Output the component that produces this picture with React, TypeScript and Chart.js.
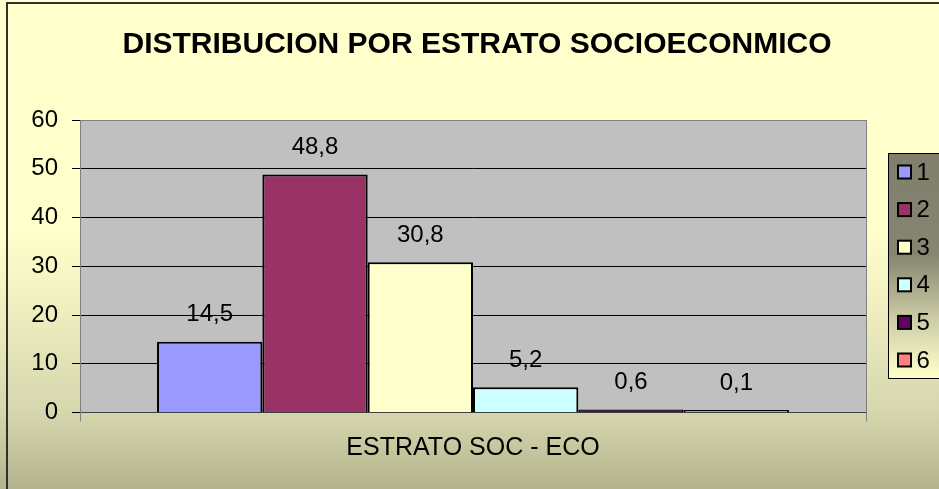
import React, { useEffect, useRef } from "react";
import { Chart, registerables } from "chart.js";

Chart.register(...registerables);

const categories = ["ESTRATO SOC - ECO"];
const seriesLabels = ["1", "2", "3", "4", "5", "6"];
const seriesValues = [14.5, 48.8, 30.8, 5.2, 0.6, 0.1];
const seriesColors = ["#9999FF", "#993366", "#FFFFCC", "#CCFFFF", "#660066", "#FF8080"];
const yMin = 0;
const yMax = 60;
const yStep = 10;
const titleText = "DISTRIBUCION POR ESTRATO SOCIOECONMICO";

const FONT = "'Liberation Sans', Arial, sans-serif";

const decoPlugin = {
  id: "deco",
  beforeDraw(chart: any) {
    const { ctx, width, height, chartArea } = chart;
    ctx.save();
    const g = ctx.createLinearGradient(0, 0, 0, height);
    g.addColorStop(0, "#FFFFCC");
    g.addColorStop(0.48, "#FFFFCC");
    g.addColorStop(0.84, "#D7D7AF");
    g.addColorStop(1, "#B3B38D");
    ctx.fillStyle = g;
    ctx.fillRect(0, 0, width, height);
    ctx.strokeStyle = "#303030";
    ctx.lineWidth = 2;
    ctx.strokeRect(7, 3, width + 20, height + 20);
    ctx.fillStyle = "#C0C0C0";
    ctx.fillRect(chartArea.left, chartArea.top, chartArea.right - chartArea.left, chartArea.bottom - chartArea.top);
    ctx.restore();
  },
  afterDraw(chart: any) {
    const { ctx, chartArea } = chart;
    ctx.save();
    ctx.strokeStyle = "#808080";
    ctx.lineWidth = 1;
    ctx.beginPath();
    ctx.moveTo(Math.round(chartArea.right) + 0.5, chartArea.top);
    ctx.lineTo(Math.round(chartArea.right) + 0.5, chartArea.bottom);
    ctx.stroke();

    ctx.fillStyle = "#000";
    ctx.font = `bold 30px ${FONT}`;
    ctx.textAlign = "center";
    ctx.textBaseline = "middle";
    ctx.fillText(titleText, 477, 45);

    ctx.font = `24px ${FONT}`;
    chart.data.datasets.forEach((ds: any, i: number) => {
      const meta = chart.getDatasetMeta(i);
      meta.data.forEach((bar: any, j: number) => {
        const v = ds.data[j];
        const txt = String(v).replace(".", ",");
        ctx.fillText(txt, bar.x, bar.y - 27);
      });
    });

    const lx = 888, ly = 153, lw = 60, lh = 225;
    const lg = ctx.createLinearGradient(0, ly, 0, ly + lh);
    lg.addColorStop(0, "#7F7F6B");
    lg.addColorStop(0.45, "#858571");
    lg.addColorStop(0.75, "#CFCFA8");
    lg.addColorStop(1, "#FFFFCC");
    ctx.fillStyle = lg;
    ctx.fillRect(lx, ly, lw, lh);
    ctx.strokeStyle = "#000";
    ctx.lineWidth = 1;
    ctx.strokeRect(lx + 0.5, ly + 0.5, lw, lh);
    ctx.textAlign = "left";
    ctx.font = `24px ${FONT}`;
    chart.data.datasets.forEach((ds: any, i: number) => {
      const cy = 172 + i * 37.6;
      ctx.fillStyle = ds.backgroundColor;
      ctx.fillRect(898, cy - 6.5, 13, 13);
      ctx.strokeStyle = "#000";
      ctx.lineWidth = 2;
      ctx.strokeRect(898, cy - 6.5, 13, 13);
      ctx.fillStyle = "#000";
      ctx.fillText(ds.label, 916.5, cy + 1);
    });
    ctx.restore();
  },
};

export default function App() {
  const ref = useRef<HTMLCanvasElement | null>(null);
  useEffect(() => {
    if (!ref.current) return;
    const chart = new Chart(ref.current, {
      type: "bar",
      data: {
        labels: categories,
        datasets: seriesLabels.map((l, i) => ({
          label: l,
          data: [seriesValues[i]],
          backgroundColor: seriesColors[i],
          borderColor: "#000",
          borderWidth: 2,
          borderSkipped: "bottom",
          minBarLength: 2.5,
          categoryPercentage: 0.804,
          barPercentage: 1,
        })),
      },
      options: {
        animation: false,
        responsive: true,
        maintainAspectRatio: false,
        layout: { padding: { top: 120, right: 73, left: 0, bottom: 0 } },
        plugins: { legend: { display: false }, title: { display: false }, tooltip: { enabled: false } },
        scales: {
          x: {
            afterFit: (s: any) => { s.height = 76.5; },
            grid: { offset: true, drawOnChartArea: false, tickLength: 9, color: "#808080" },
            border: { display: true, color: "#404040" },
            ticks: { color: "#000", font: { family: FONT, size: 25 }, padding: 12 },
          },
          y: {
            min: yMin,
            max: yMax,
            afterFit: (s: any) => { s.width = 80; },
            grid: {
              color: (c: any) => (c.tick && c.tick.value === yMax ? "#808080" : "#000"),
              tickColor: "#000",
              tickLength: 8,
            },
            border: { display: true, color: "#808080" },
            ticks: { stepSize: yStep, color: "#000", font: { family: FONT, size: 24 }, padding: 14 },
          },
        },
      },
      plugins: [decoPlugin],
    });
    return () => chart.destroy();
  }, []);
  return (
    <div style={{ position: "fixed", left: 0, top: 0, width: 939, height: 489 }}>
      <canvas ref={ref} />
    </div>
  );
}
